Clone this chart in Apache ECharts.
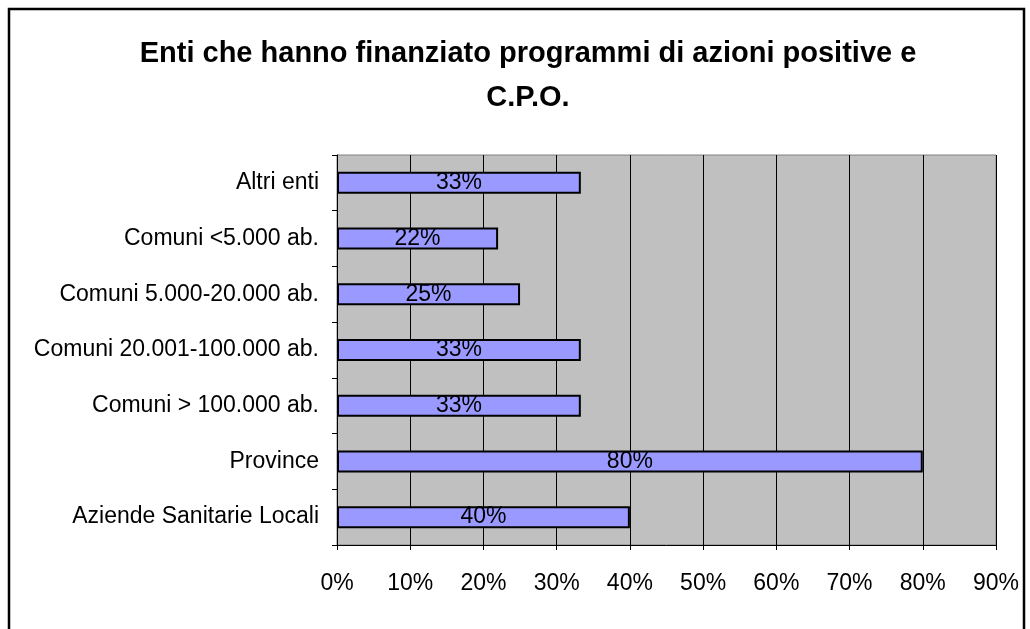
<!DOCTYPE html>
<html>
<head>
<meta charset="utf-8">
<script src="https://cdn.jsdelivr.net/npm/echarts@6/dist/echarts.min.js"></script>
<style>
  html, body { margin: 0; padding: 0; background: #fff; }
  #main { width: 1030px; height: 629px; }
</style>
</head>
<body>
<div id="main"></div>
<script>
// categories bottom -> top (ECharts draws the first one at the bottom)
var categories = [
  "Aziende Sanitarie Locali",
  "Province",
  "Comuni > 100.000 ab.",
  "Comuni 20.001-100.000 ab.",
  "Comuni 5.000-20.000 ab.",
  "Comuni <5.000 ab.",
  "Altri enti"
];
var values = [40, 80, 33.3, 33.3, 25, 22, 33.3];
var xTicks = [0, 10, 20, 30, 40, 50, 60, 70, 80, 90];

var chart = echarts.init(document.getElementById("main"));
var font = "Liberation Sans, Arial, sans-serif";

var option = {
  animation: false,
  textStyle: { fontFamily: font },
  graphic: [
    {
      type: "rect",
      shape: { x: 9, y: 9, width: 1015, height: 660 },
      style: { fill: "none", stroke: "#000", lineWidth: 2.5 },
      z: 100
    }
  ],
  title: {
    text: "Enti che hanno finanziato programmi di azioni positive e\nC.P.O.",
    left: 523,
    textAlign: "center",
    top: 27,
    textStyle: {
      fontFamily: font,
      fontSize: 29,
      fontWeight: "bold",
      color: "#000",
      lineHeight: 44
    }
  },
  grid: {
    left: 337,
    right: 34,
    top: 155,
    bottom: 84,
    show: true,
    backgroundColor: "#C0C0C0",
    borderColor: "#808080",
    borderWidth: 1
  },
  xAxis: {
    type: "value",
    min: xTicks[0],
    max: xTicks[xTicks.length - 1],
    interval: 10,
    axisLine: { show: true, lineStyle: { color: "#000", width: 1 } },
    axisTick: { show: true, length: 5, lineStyle: { color: "#000" } },
    axisLabel: {
      formatter: "{value}%",
      fontSize: 23,
      color: "#000",
      margin: 27,
      fontFamily: font
    },
    splitLine: { show: true, lineStyle: { color: "#000", width: 1 } }
  },
  yAxis: {
    type: "category",
    data: categories,
    axisLine: { show: true, lineStyle: { color: "#000", width: 1 } },
    axisTick: { show: true, length: 5, lineStyle: { color: "#000" } },
    axisLabel: { fontSize: 23, color: "#000", margin: 18, fontFamily: font }
  },
  series: [
    {
      type: "bar",
      data: values,
      barWidth: 22,
      itemStyle: { color: "#9999FF", borderColor: "#000", borderWidth: 2 },
      label: {
        show: true,
        position: "inside",
        color: "#000",
        fontSize: 23,
        fontFamily: font,
        formatter: function (p) { return Math.round(p.value) + "%"; }
      }
    }
  ]
};

chart.setOption(option);
</script>
</body>
</html>
